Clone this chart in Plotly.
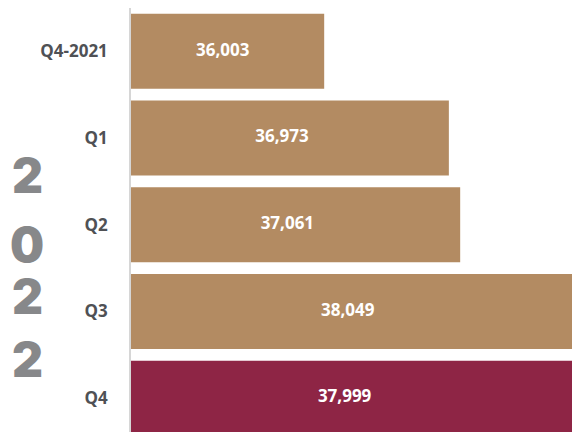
import plotly.graph_objects as go

categories = ["Q4-2021", "Q1", "Q2", "Q3", "Q4"]
values = [36003, 36973, 37061, 38049, 37999]
value_labels = ["36,003", "36,973", "37,061", "38,049", "37,999"]
bar_colors = ["#B38B62", "#B38B62", "#B38B62", "#B38B62", "#8E2545"]
year_digits = ["2", "0", "2", "2"]

X_START = 34500
X_END = 37931

label_x = [X_START + 0.475 * (v - X_START) for v in values]

fig = go.Figure()
fig.add_trace(go.Bar(
    y=categories, x=values, orientation="h",
    marker=dict(color=bar_colors, line=dict(width=0)),
    hoverinfo="x+y", showlegend=False,
))
fig.add_trace(go.Scatter(
    y=categories, x=label_x, mode="text", text=value_labels,
    textfont=dict(family="Open Sans", size=17, color="white", weight="bold"),
    textposition="middle center", showlegend=False, hoverinfo="skip",
))

digit_y = [0.605, 0.443, 0.320, 0.171]
for d, yy in zip(year_digits, digit_y):
    fig.add_annotation(
        text=d, xref="paper", yref="paper", x=-0.235, y=yy,
        xanchor="center", yanchor="middle", showarrow=False,
        font=dict(family="Inter", size=48, color="#87888A", weight=900),
    )

fig.update_layout(
    width=572, height=432,
    margin=dict(l=131, r=0, t=8, b=0),
    paper_bgcolor="white", plot_bgcolor="white",
    bargap=0.135,
    xaxis=dict(range=[X_START, X_END], visible=False, showgrid=False, zeroline=False),
    yaxis=dict(
        categoryorder="array", categoryarray=categories,
        range=[4.39, -0.5], showgrid=False, zeroline=False,
        showline=True, linecolor="#D6D6D6", linewidth=1.5,
        ticks="", ticklabelstandoff=18,
        tickfont=dict(family="Open Sans", size=17, color="#4F5155", weight="bold"),
    ),
)

fig.write_html(
    "out.html",
    config={"displayModeBar": False},
    post_script="document.body.style.margin='0';document.body.style.overflow='hidden';",
)
